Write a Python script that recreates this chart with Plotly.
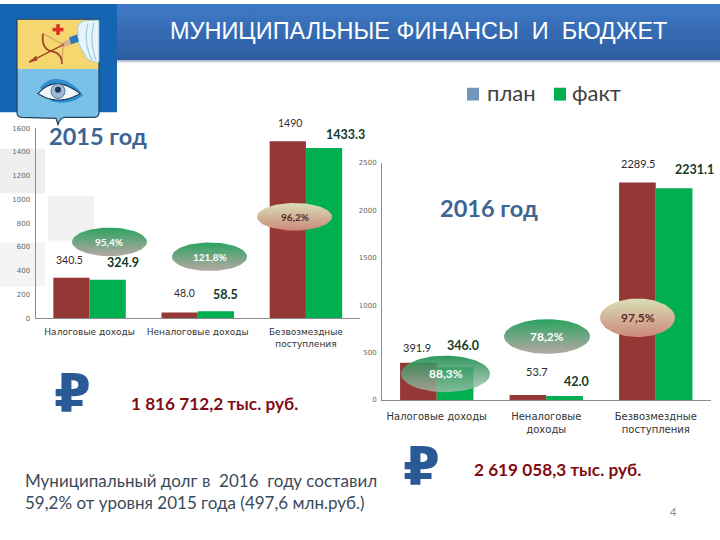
import math
import plotly.graph_objects as go

W, H = 720, 540

categories_2015 = ["Налоговые доходы", "Неналоговые доходы", "Безвозмездные<br>поступления"]
plan_2015 = [340.5, 48.0, 1490]
fact_2015 = [324.9, 58.5, 1433.3]
plan_labels_2015 = ["340.5", "48.0", "1490"]
fact_labels_2015 = ["324.9", "58.5", "1433.3"]
pct_2015 = ["95,4%", "121,8%", "96,2%"]
ticks_2015 = [0, 200, 400, 600, 800, 1000, 1200, 1400, 1600]

categories_2016 = ["Налоговые доходы", "Неналоговые<br>доходы", "Безвозмездные<br>поступления"]
plan_2016 = [391.9, 53.7, 2289.5]
fact_2016 = [346.0, 42.0, 2231.1]
plan_labels_2016 = ["391.9", "53.7", "2289.5"]
fact_labels_2016 = ["346.0", "42.0", "2231.1"]
pct_2016 = ["88,3%", "78,2%", "97,5%"]
ticks_2016 = [0, 500, 1000, 1500, 2000, 2500]

RED, GREEN = "#953735", "#00B050"


def X(p):
    return p / W


def Y(p):
    return 1 - p / H


shapes = []
annotations = []


def rect(x0, y0, x1, y1, color, layer="above"):
    shapes.append(dict(type="rect", xref="paper", yref="paper", x0=X(x0), x1=X(x1), y0=Y(y0), y1=Y(y1),
                       fillcolor=color, line=dict(width=0), layer=layer))


def bez(p0, p1, p2, n=10):
    return [((1 - t) ** 2 * p0[0] + 2 * t * (1 - t) * p1[0] + t ** 2 * p2[0],
             (1 - t) ** 2 * p0[1] + 2 * t * (1 - t) * p1[1] + t ** 2 * p2[1])
            for t in (i / n for i in range(n + 1))]


def path(pts, fill=None, line=None, width=1, close=True):
    d = "M" + " L".join(f"{X(a):.5f},{Y(b):.5f}" for a, b in pts) + (" Z" if close else "")
    shapes.append(dict(type="path", path=d, xref="paper", yref="paper", layer="above",
                       fillcolor=fill if fill else "rgba(0,0,0,0)",
                       line=dict(color=line if line else "rgba(0,0,0,0)", width=width if line else 0)))


def ell(x0, y0, x1, y1, fill, line=None, width=1):
    shapes.append(dict(type="circle", xref="paper", yref="paper", x0=X(x0), x1=X(x1), y0=Y(y0), y1=Y(y1),
                       fillcolor=fill, layer="above",
                       line=dict(color=line if line else "rgba(0,0,0,0)", width=width if line else 0)))


def text(x, y, s, size, color, font="Lato", anchor="center", bold=False):
    if anchor == "left":
        x -= 2
    annotations.append(dict(xref="paper", yref="paper", x=X(x), y=Y(y), text=f"<b>{s}</b>" if bold else s,
                            showarrow=False, xanchor=anchor, yanchor="middle",
                            font=dict(family=font, size=size, color=color)))


# faded page squares
rect(0, 147, 45, 192, "#efefef", "below")
rect(48, 195, 94, 240, "#f1f1f1", "below")
rect(0, 242, 45, 287, "#f4f4f4", "below")

# blue band behind the coat of arms
rect(0, 0, 117, 110, "#1565b3")
text(418.5, 27, "МУНИЦИПАЛЬНЫЕ ФИНАНСЫ\u00a0 И\u00a0 БЮДЖЕТ", 23.5, "#ffffff", "Liberation Sans")

# coat of arms
lower = [(17, 66), (99, 66)] + bez((99, 110), (99, 115), (94, 115), 5) + bez((64, 115), (60, 116), (58, 122.5), 5) \
    + bez((56, 116), (52, 115), (22, 115), 1) + bez((22, 115), (17, 115), (17, 110), 5)
outline = [(17, 15.5), (99, 15.5)] + lower[2:]
path([(17, 15.5), (99, 15.5), (99, 66), (17, 66)], "#f6d66e")
path(lower, "#79c1e6")
path(outline, None, "#22405f", 1.2)
cloud = [(84, 17)] + [(99, 16.5), (99, 59)] + bez((99, 59), (88, 60), (84, 50), 5) + bez((84, 50), (76, 38), (78, 30), 5) \
    + bez((78, 30), (76, 20), (84, 17), 5)
path(cloud, "#e7f4fa", "#8fc3de", 0.8)
path(bez((88, 20), (83, 38), (92, 57), 6), None, "#9ccbe4", 1.2, close=False)
path(bez((94, 19), (89, 38), (96, 57), 6), None, "#9ccbe4", 1.2, close=False)
path([(69, 34), (77, 31), (79, 38), (71, 41)], "#2f78bb")
path([(60, 40), (69, 36), (71, 41), (63, 44)], "#d9b08c")
path([(29, 59), (64, 41)], None, "#a5452a", 1.4, close=False)
path([(29, 59), (36, 53), (37, 57)], "#a5452a", "#a5452a", 0.8)
path(bez((43, 30), (41, 46), (52, 48), 8) + bez((52, 48), (62, 50), (62, 61), 8), None, "#a5452a", 1.8, close=False)
path([(43, 30), (63, 41), (62, 61)], None, "#b9785a", 0.7, close=False)
rect(56.2, 20.5, 59.8, 31.5, "#d9302c")
rect(52.5, 24.2, 63.5, 27.8, "#d9302c")
swoosh = bez((40, 85), (50, 72), (66, 78), 8) + bez((66, 78), (78, 84), (83, 93), 6) + bez((83, 93), (70, 103), (52, 99), 8)
path(swoosh, "#2f8ecb")
eye = bez((38, 91), (55, 71), (80, 91), 12) + bez((80, 91), (58, 104), (38, 91), 12)
path(eye, "#eef6fa", "#17365a", 1.1)
ell(51, 81, 65, 96, "#9db8cf", "#3d6a8f", 0.8)
ell(55, 84, 61, 90, "#17365a")

# legend
rect(467, 85, 479, 98, "#7096b8")
text(487, 90, "план", 22, "#404040", "Lato", "left")
rect(554, 85, 566, 98, GREEN)
text(572, 90, "факт", 22, "#404040", "Lato", "left")

# year titles
text(49, 134, "2015 год", 23.5, "#3c6593", "Lato", "left", True)
text(440, 207, "2016 год", 23.5, "#3c6593", "Lato", "left", True)

# data labels
pos_plan_15 = [(69, 260), (185, 293), (290, 121)]
pos_fact_15 = [(122.5, 262), (225, 295), (345, 132)]
pos_plan_16 = [(417, 349), (537, 373), (638, 162)]
pos_fact_16 = [(463, 347), (576, 383), (694, 168)]
for lab, (a, b) in zip(plan_labels_2015, pos_plan_15):
    text(a, b, lab, 10.5, "#3a2a2a", "Lato")
for lab, (a, b) in zip(fact_labels_2015, pos_fact_15):
    text(a, b, lab, 12.5, "#123a2a", "Lato", bold=True)
for lab, (a, b) in zip(plan_labels_2016, pos_plan_16):
    text(a, b, lab, 11, "#2a2a2a", "Lato")
for lab, (a, b) in zip(fact_labels_2016, pos_fact_16):
    text(a, b, lab, 12.5, "#123a2a", "Lato", bold=True)

# totals
text(54, 395, "₽", 53, "#2a5a96", "DejaVu Sans", "left", True)
text(403, 469, "₽", 53, "#2a5a96", "DejaVu Sans", "left", True)
text(131, 405, "1 816 712,2 тыс. руб.", 17.2, "#7f0d12", "Lato", "left", True)
text(474, 472, "2 619 058,3 тыс. руб.", 17.2, "#7f0d12", "Lato", "left", True)
text(25, 484, "Муниципальный долг в\u00a0 2016\u00a0 году составил", 17, "#3a4a5a", "Lato", "left")
text(25, 506, "59,2% от уровня 2015 года (497,6 млн.руб.)", 17, "#3a4a5a", "Lato", "left")
text(673, 515, "4", 11, "#8a8a8a", "Lato")

fig = go.Figure()
fig.add_bar(x=categories_2015, y=plan_2015, marker_color=RED, marker_line_width=0, xaxis="x", yaxis="y", name="план")
fig.add_bar(x=categories_2015, y=fact_2015, marker_color=GREEN, marker_line_width=0, xaxis="x", yaxis="y", name="факт")
fig.add_bar(x=categories_2016, y=plan_2016, marker_color=RED, marker_line_width=0, xaxis="x2", yaxis="y2", name="план")
fig.add_bar(x=categories_2016, y=fact_2016, marker_color=GREEN, marker_line_width=0, xaxis="x2", yaxis="y2", name="факт")

# header bar on the full-page overlay subplot (pixel units)
for x0, y0, x1, y1, t, b in [(117, 0, 720, 57, "rgb(63,122,200)", "rgb(44,92,158)"),
                             (117, 57, 720, 60, "rgb(154,167,184)", "rgb(255,255,255)")]:
    fig.add_scatter(x=[x0, x1, x1, x0, x0], y=[H - y0, H - y0, H - y1, H - y1, H - y0], mode="lines",
                    line=dict(width=0), fill="toself", xaxis="x3", yaxis="y3", hoverinfo="skip",
                    fillgradient=dict(type="vertical", colorscale=[[0, b], [1, t]]))

# percent ellipses
GT, GB = "rgb(43,163,96)", "rgb(181,168,164)"
TT, TB = "rgb(217,223,180)", "rgb(204,138,124)"
ovals = [
    (pct_2015[0], 72, 227, 147, 256, GT, GB, "#ffffff"),
    (pct_2015[1], 172, 242, 247, 271, GT, GB, "#ffffff"),
    (pct_2015[2], 257, 202, 332, 230, TT, TB, "#5a2a2a"),
    (pct_2016[0], 401, 357, 490, 394, "rgba(20,140,75,0.9)", "rgba(170,190,175,0.75)", "#ffffff"),
    (pct_2016[1], 504, 320, 590, 355, GT, GB, "#ffffff"),
    (pct_2016[2], 600, 299, 675, 338, TT, TB, "#5a2a2a"),
]
for s, x0, y0, x1, y1, t, b, c in ovals:
    cx, cy, rx, ry = (x0 + x1) / 2, (y0 + y1) / 2, (x1 - x0) / 2, (y1 - y0) / 2
    ex = [cx + rx * math.cos(2 * math.pi * k / 72) for k in range(73)]
    ey = [H - (cy + ry * math.sin(2 * math.pi * k / 72)) for k in range(73)]
    fig.add_scatter(x=ex, y=ey, mode="lines", line=dict(width=0), fill="toself", xaxis="x3", yaxis="y3",
                    fillgradient=dict(type="vertical", colorscale=[[0, b], [1, t]]), hoverinfo="skip")
    text(cx, cy, s, 10 if y1 - y0 < 32 else 12, c, "Lato", bold=True)

tickf = dict(family="DejaVu Sans", size=7, color="#666666")
catf = dict(family="DejaVu Sans", size=9, color="#333333")
axline = dict(showline=True, linecolor="#8c8c8c", linewidth=1, showgrid=False, zeroline=False)
fig.update_layout(
    width=W, height=H, margin=dict(l=0, r=0, t=0, b=0), autosize=False,
    paper_bgcolor="#ffffff", plot_bgcolor="rgba(0,0,0,0)", showlegend=False,
    barmode="group", bargap=0.33, bargroupgap=0,
    xaxis=dict(domain=[X(35.5), X(360)], anchor="y", tickfont=catf, ticks="", ticklabelstandoff=5, **axline),
    yaxis=dict(domain=[Y(319), Y(126)], range=[0, 1600], anchor="x", tickvals=ticks_2015, tickfont=tickf,
               ticks="", ticklabelstandoff=3, **axline),
    xaxis2=dict(domain=[X(382), X(710.5)], anchor="y2", tickfont=dict(catf, size=10), ticks="",
                ticklabelstandoff=7, **axline),
    yaxis2=dict(domain=[Y(402), Y(161)], range=[0, 2500], anchor="x2", tickvals=ticks_2016, tickfont=tickf,
                ticks="", ticklabelstandoff=3, **axline),
    xaxis3=dict(domain=[0, 1], range=[0, W], anchor="y3", visible=False, fixedrange=True),
    yaxis3=dict(domain=[0, 1], range=[0, H], anchor="x3", visible=False, fixedrange=True),
    shapes=shapes, annotations=annotations,
)
fig.write_html("out.html", config=dict(displayModeBar=False),
               post_script="document.body.style.margin='0';document.documentElement.style.overflow='hidden';")
